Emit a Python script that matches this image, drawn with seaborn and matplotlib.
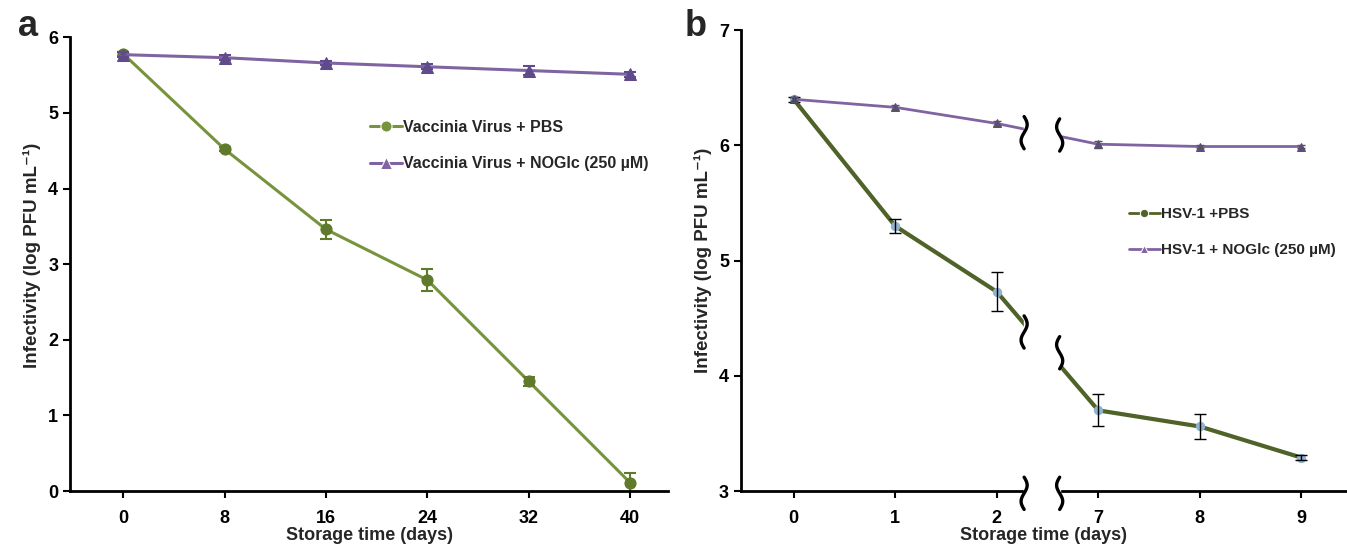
import numpy as np
import pandas as pd
import seaborn as sns
import matplotlib.pyplot as plt

# Panel a data (vaccinia virus)
days_a = [0, 8, 16, 24, 32, 40]
pbs_a = [5.78, 4.52, 3.46, 2.79, 1.45, 0.11]
pbs_a_err = [0.03, 0.03, 0.13, 0.14, 0.06, 0.13]
noglc_a = [5.77, 5.73, 5.66, 5.61, 5.56, 5.51]
noglc_a_err = [0.03, 0.03, 0.03, 0.03, 0.06, 0.03]

# Panel b data (HSV-1), plotted on categorical positions with a broken axis
days_b = ["0", "1", "2", "7", "8", "9"]
pbs_b = [6.40, 5.30, 4.73, 3.70, 3.56, 3.29]
pbs_b_err = [0.02, 0.06, 0.17, 0.14, 0.11, 0.02]
noglc_b = [6.40, 6.33, 6.19, 6.01, 5.99, 5.99]
noglc_b_err = [0.02, 0.02, 0.02, 0.03, 0.01, 0.01]

sns.set_theme(style="ticks")
plt.rcParams['font.family'] = ['Liberation Sans', 'DejaVu Sans']
plt.rcParams['font.weight'] = 'bold'
plt.rcParams['axes.labelweight'] = 'bold'

green_a = "#77933C"
green_b = "#4F6228"
purple = "#8064A2"
purple_dark = "#5F4A8B"

fig = plt.figure(figsize=(13.47, 5.48), dpi=100)
ax1 = fig.add_axes([0.052, 0.104, 0.444, 0.828])
ax2 = fig.add_axes([0.550, 0.104, 0.450, 0.841])

# ---- panel a ----
df_a = pd.DataFrame({"day": days_a * 2,
                     "value": pbs_a + noglc_a,
                     "group": ["Vaccinia Virus + PBS"] * 6 + ["Vaccinia Virus + NOGlc (250 \u00b5M)"] * 6})
sns.lineplot(data=df_a, x="day", y="value", hue="group", style="group",
             palette=[green_a, purple], markers=["o", "^"], dashes=False,
             linewidth=2.2, markersize=8, ax=ax1)
for line, col in zip(ax1.lines[:2], ["#5E7A2A", purple_dark]):
    line.set_markerfacecolor(col)
    line.set_markeredgecolor(col)
ax1.errorbar(days_a, pbs_a, yerr=pbs_a_err, fmt="none", ecolor="#5E7A2A", elinewidth=1.5, capsize=4, capthick=1.5)
ax1.errorbar(days_a, noglc_a, yerr=noglc_a_err, fmt="none", ecolor=purple_dark, elinewidth=1.5, capsize=4, capthick=1.5)
ax1.set_xlim(-4.2, 43)
ax1.set_ylim(0, 6)
ax1.set_xticks(days_a)
ax1.set_yticks(range(0, 7))
ax1.legend(loc="upper left", bbox_to_anchor=(0.478, 0.85), frameon=False,
           fontsize=11.5, handlelength=2.0, handletextpad=0.05, labelspacing=1.35)

# ---- panel b ----
pos_b = list(range(len(days_b)))
df_b = pd.DataFrame({"pos": pos_b * 2,
                     "value": pbs_b + noglc_b,
                     "group": ["HSV-1 +PBS"] * 6 + ["HSV-1 + NOGlc (250 \u00b5M)"] * 6})
sns.lineplot(data=df_b, x="pos", y="value", hue="group", style="group",
             palette=[green_b, purple], markers=["o", "^"], dashes=False,
             linewidth=2, markersize=6, ax=ax2)
ax2.lines[0].set_linewidth(3)
ax2.lines[0].set_markerfacecolor("#8FB3D0")
ax2.lines[0].set_markeredgecolor("#8FB3D0")
ax2.lines[1].set_markerfacecolor(purple_dark)
ax2.lines[1].set_markeredgecolor(purple_dark)
ax2.errorbar(pos_b, pbs_b, yerr=pbs_b_err, fmt="none", ecolor="black", elinewidth=1, capsize=4, capthick=1)
ax2.errorbar(pos_b, noglc_b, yerr=noglc_b_err, fmt="none", ecolor="#555555", elinewidth=1, capsize=3, capthick=1)
ax2.set_xlim(-0.52, 5.45)
ax2.set_ylim(3, 7)
ax2.set_xticks(pos_b)
ax2.set_xticklabels(days_b)
ax2.set_yticks(range(3, 8))
ax2.legend(loc="upper left", bbox_to_anchor=(0.618, 0.645), frameon=False,
           fontsize=11, handlelength=2.0, handletextpad=0.05, labelspacing=1.4)

# axis break: blank gap plus curly marks
gap_l, gap_r = 2.27, 2.62
ax2.axvspan(gap_l, gap_r, ymin=-0.02, ymax=1, color="white", zorder=5, clip_on=False)
t = np.linspace(-1, 1, 40)
break_marks = [(gap_l, 2.98), (gap_r, 2.98), (gap_l, 4.38), (gap_r, 4.20), (gap_l, 6.11), (gap_r, 6.09)]
for xb, yb in break_marks:
    yy = yb + t * 0.14
    xx = xb + 0.03 * np.sin(t * np.pi) * (1 if xb == gap_l else -1)
    ax2.plot(xx, yy, color="black", lw=2.4, zorder=6, clip_on=False)

for ax in (ax1, ax2):
    sns.despine(ax=ax)
    ax.spines["left"].set_linewidth(2)
    ax.spines["bottom"].set_linewidth(2)
    ax.spines["left"].set_color("black")
    ax.spines["bottom"].set_color("black")
    ax.tick_params(direction="out", length=5, width=1.5, labelsize=13, colors="black")
    ax.tick_params(axis="x", pad=9)
    ax.set_xlabel("Storage time (days)", fontsize=13, fontweight="bold", labelpad=0)
    ax.set_ylabel("Infectivity (log PFU mL\u207b\u00b9)", fontsize=13.5, fontweight="bold")

ax1.yaxis.set_label_coords(-0.048, 0.52)
ax2.yaxis.set_label_coords(-0.048, 0.50)

fig.text(0.013, 0.935, "a", fontsize=26, fontweight="bold")
fig.text(0.508, 0.935, "b", fontsize=26, fontweight="bold")

fig.savefig("out.png", dpi=100)
